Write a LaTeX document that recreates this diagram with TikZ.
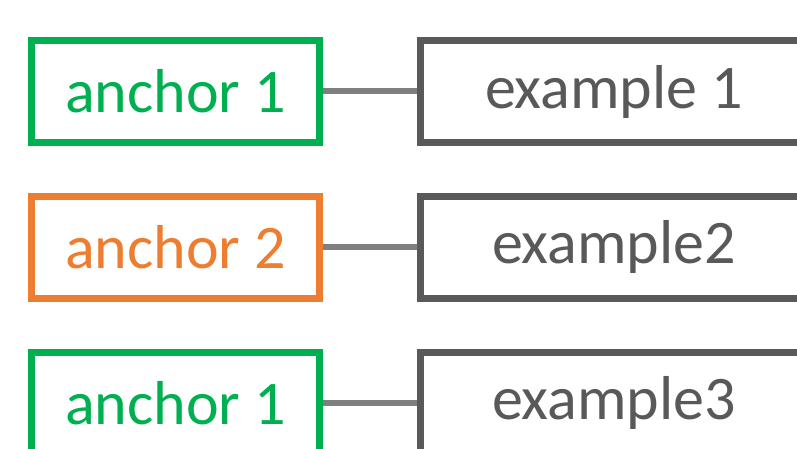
\documentclass[tikz,border=0pt]{standalone}
\usepackage{fontspec}
\setmainfont{Carlito}
\definecolor{boxgreen}{HTML}{00B050}
\definecolor{boxorange}{HTML}{ED7D31}
\definecolor{boxgray}{HTML}{595959}
\definecolor{linkgray}{HTML}{7F7F7F}

\tikzstyle{anchorbox}=[draw,line width=7pt,minimum width=288pt,minimum height=102pt,inner sep=0pt,font=\fontsize{62}{70}\selectfont]
\tikzstyle{examplebox}=[draw=boxgray,text=boxgray,line width=7pt,minimum width=388pt,minimum height=102pt,inner sep=0pt,font=\fontsize{62}{70}\selectfont]
\tikzstyle{link} = [draw,line width=6pt,linkgray,-]

\begin{document}
\begin{tikzpicture}[x=1pt,y=-1pt]
			\useasboundingbox (0,0) rectangle (797,449);
			\clip (0,0) rectangle (797,449);
			\node[anchorbox,draw=boxgreen,text=boxgreen] (a1) at (175.5,91.5) {anchor 1};
			\node[anchorbox,draw=boxorange,text=boxorange] (a2) at (175.5,247) {anchor 2};
			\node[anchorbox,draw=boxgreen,text=boxgreen] (a3) at (175.5,403) {anchor 1};
			\node[examplebox] (e1) at (614,91.5) {example 1};
			\node[examplebox] (e2) at (614,247) {example2};
			\node[examplebox] (e3) at (614,403) {example3};
   			 % Connect anchors with examples
   			\foreach \source/ \dest in {a1/e1, a2/e2, a3/e3}
        			\path[link] (\source) -- (\dest);
		\end{tikzpicture}
\end{document}
